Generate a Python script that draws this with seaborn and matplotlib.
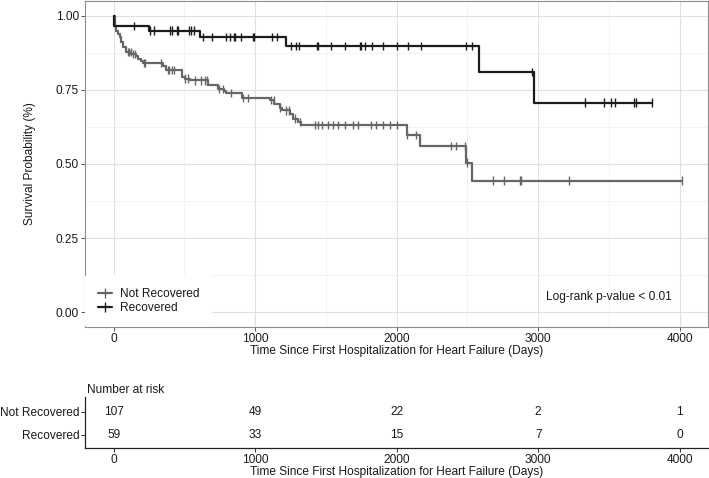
import numpy as np
import pandas as pd
import matplotlib
matplotlib.use('Agg')
import matplotlib.pyplot as plt
import seaborn as sns
from matplotlib.lines import Line2D

# ---- data ----
groups = ['Not Recovered', 'Recovered']

nr_time = [0, 7, 19, 30, 47, 54, 66, 90, 125, 160, 172, 196, 207, 348, 372, 486, 502, 537,
           666, 737, 777, 792, 910, 1102, 1133, 1173, 1192, 1244, 1267, 1302, 1327,
           2076, 2168, 2488, 2532, 4015]
nr_surv = [1.0, 0.966, 0.950, 0.939, 0.928, 0.911, 0.894, 0.877, 0.872, 0.866, 0.855, 0.849,
           0.841, 0.830, 0.818, 0.795, 0.788, 0.782, 0.768, 0.754, 0.748, 0.740, 0.723,
           0.715, 0.701, 0.689, 0.681, 0.670, 0.653, 0.642, 0.631,
           0.597, 0.561, 0.505, 0.444, 0.444]
nr_censor = [98, 110, 120, 136, 150, 212, 224, 334, 382, 394, 410, 424, 504, 523, 575, 617,
             643, 657, 742, 773, 832, 914, 950, 1114, 1131, 1173, 1220, 1239, 1279, 1314,
             1420, 1444, 1475, 1511, 1550, 1585, 1632, 1691, 1727, 1821, 1856, 1903, 1950,
             2004, 2076, 2139, 2386, 2422, 2481, 2495, 2681, 2756, 2869, 2876, 3218, 4015]

rc_time = [0, 4, 250, 613, 1220, 2580, 2968, 3807]
rc_surv = [1.0, 0.966, 0.950, 0.928, 0.899, 0.810, 0.707, 0.707]
rc_censor = [146, 254, 283, 396, 410, 447, 457, 532, 549, 565, 631, 693, 797, 825, 850, 860,
             899, 984, 989, 1122, 1155, 1253, 1291, 1310, 1437, 1444, 1539, 1632, 1739, 1748,
             1774, 1828, 1903, 2005, 2080, 2170, 2488, 2535, 2956, 3331, 3468, 3512, 3546,
             3677, 3694, 3804]

risk_times = [0, 1000, 2000, 3000, 4000]
risk_not_recovered = [107, 49, 22, 2, 1]
risk_recovered = [59, 33, 15, 7, 0]

colors = {'Not Recovered': '#666666', 'Recovered': '#1c1c1c'}


def step_at(times, surv, t):
    i = np.searchsorted(times, t, side='right') - 1
    return np.asarray(surv)[i]


steps = pd.concat([
    pd.DataFrame({'time': nr_time, 'surv': nr_surv, 'group': 'Not Recovered'}),
    pd.DataFrame({'time': rc_time, 'surv': rc_surv, 'group': 'Recovered'}),
])
cens = pd.concat([
    pd.DataFrame({'time': nr_censor, 'surv': step_at(nr_time, nr_surv, nr_censor),
                  'group': 'Not Recovered'}),
    pd.DataFrame({'time': rc_censor, 'surv': step_at(rc_time, rc_surv, rc_censor),
                  'group': 'Recovered'}),
])

sns.set_theme(style='white')
plt.rcParams['font.family'] = ['Liberation Sans', 'DejaVu Sans']
fs = 8.6
txt = '#1a1a1a'

fig = plt.figure(figsize=(7.09, 4.78), dpi=100)
W, H = 709, 478
xlim = (-203, 4200)

# ---- survival curves ----
ax = fig.add_axes([85 / W, 1 - 327 / H, 623 / W, 326 / H])
sns.lineplot(data=steps, x='time', y='surv', hue='group', palette=colors,
             drawstyle='steps-post', estimator=None, sort=False, lw=1.6,
             legend=False, ax=ax)
sns.scatterplot(data=cens, x='time', y='surv', hue='group', palette=colors,
                marker='|', s=36, linewidth=1.0, legend=False, ax=ax, zorder=3)

ax.set_xlim(*xlim)
ax.set_ylim(-0.05, 1.05)
ax.set_xticks(risk_times)
ax.set_xticks([500, 1500, 2500, 3500], minor=True)
ax.set_yticks([0, 0.25, 0.5, 0.75, 1.0])
ax.set_yticks([0.125, 0.375, 0.625, 0.875], minor=True)
ax.set_yticklabels(['0.00', '0.25', '0.50', '0.75', '1.00'])
ax.grid(which='major', color='#e0e0e0', lw=0.8)
ax.grid(which='minor', color='#eeeeee', lw=0.5)
ax.set_axisbelow(True)
for s in ax.spines.values():
    s.set_color('#8c8c8c')
    s.set_linewidth(0.8)
ax.tick_params(which='major', length=3, width=0.7, color='#555555', labelsize=fs,
               labelcolor=txt, pad=1.5, bottom=True, left=True)
ax.tick_params(which='minor', length=0)
ax.set_xlabel('Time Since First Hospitalization for Heart Failure (Days)', fontsize=fs,
              color=txt, labelpad=0)
ax.set_ylabel('Survival Probability (%)', fontsize=fs, color=txt, labelpad=14)

handles = [Line2D([0], [0], color=colors[g], lw=1.6, marker='|', ms=7, mew=1.0)
           for g in groups]
leg = ax.legend(handles, groups, loc='lower left', bbox_to_anchor=(0.0, 0.0),
                borderaxespad=0.0, frameon=True, fontsize=fs, handlelength=1.2,
                handletextpad=0.6, labelspacing=0.15, borderpad=1.1)
leg.get_frame().set_facecolor('white')
leg.get_frame().set_edgecolor('none')
leg.get_frame().set_alpha(1)
for t in leg.get_texts():
    t.set_color(txt)

ax.text(3500, 0.05, 'Log-rank p-value < 0.01', fontsize=fs, color=txt,
        ha='center', va='center')

# ---- number at risk table ----
axr = fig.add_axes([85 / W, 1 - 448 / H, 623 / W, 51 / H])
axr.set_xlim(*xlim)
axr.set_ylim(-0.565, 1.65)
for i, t in enumerate(risk_times):
    axr.text(t, 1, str(risk_not_recovered[i]), ha='center', va='center', fontsize=fs, color=txt)
    axr.text(t, 0, str(risk_recovered[i]), ha='center', va='center', fontsize=fs, color=txt)
axr.set_xticks(risk_times)
axr.set_yticks([1, 0])
axr.set_yticklabels(['Not Recovered', 'Recovered'])
sns.despine(ax=axr)
for side in ['left', 'bottom']:
    axr.spines[side].set_color('#222222')
    axr.spines[side].set_linewidth(0.9)
axr.tick_params(length=3, width=0.7, color='#333333', labelsize=fs, labelcolor=txt,
                pad=1.0, bottom=True, left=True)
axr.set_xlabel('Time Since First Hospitalization for Heart Failure (Days)', fontsize=fs,
               color=txt, labelpad=0)
fig.text(87 / W, 1 - 390 / H, 'Number at risk', fontsize=fs, color=txt,
         ha='left', va='center')

fig.savefig('out.png', dpi=100)
